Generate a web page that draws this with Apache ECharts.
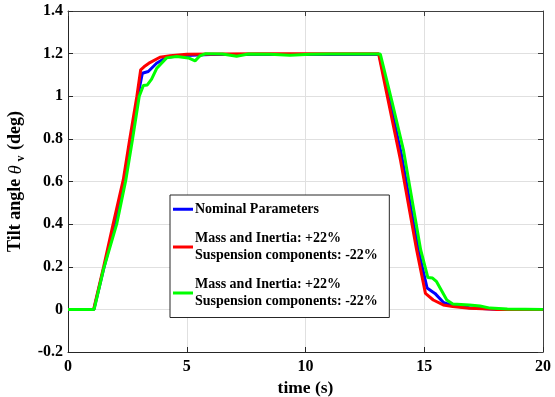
<!DOCTYPE html>
<html>
<head>
<meta charset="utf-8">
<script src="https://cdn.jsdelivr.net/npm/echarts@6/dist/echarts.min.js"></script>
<style>html,body{margin:0;padding:0;background:#fff}#c{width:555px;height:397px}</style>
</head>
<body>
<div id="c"></div>
<script>
// ---- data ----
var xTicks = [0, 5, 10, 15, 20];
var yTicks = [-0.2, 0, 0.2, 0.4, 0.6, 0.8, 1, 1.2, 1.4];

var nameNominal = 'Nominal Parameters';
var nameHeavy = 'Mass and Inertia: +22%\nSuspension components: -22%';
var nameLight = 'Mass and Inertia: +22%\nSuspension components: -22% ';

var tBlue = [0, 1.09, 1.5, 1.98, 2.38, 2.64, 2.94, 3.13, 3.38, 3.73, 4.15, 4.7, 6, 13.1, 13.56, 14.05, 14.75, 15.12, 15.45, 15.8, 16.2, 16.9, 18, 20];
var yBlue = [0, 0, 0.19, 0.4, 0.6, 0.8, 1.0, 1.108, 1.116, 1.155, 1.183, 1.19, 1.196, 1.196, 0.97, 0.72, 0.279, 0.1, 0.075, 0.033, 0.017, 0.008, 0.001, 0];

var tRed = [0, 1.08, 1.5, 1.9, 2.33, 2.6, 2.9, 3.06, 3.2, 3.45, 3.87, 4.3, 5, 8, 13.08, 13.5, 14.0, 14.68, 15.05, 15.38, 15.8, 16.2, 16.9, 18, 20];
var yRed = [0, 0, 0.2, 0.4, 0.61, 0.8, 1.0, 1.124, 1.138, 1.158, 1.183, 1.19, 1.197, 1.199, 1.199, 0.97, 0.70, 0.279, 0.075, 0.044, 0.021, 0.013, 0.005, 0, 0];

var tGreen = [0, 1.1, 1.5, 2.05, 2.44, 2.72, 3.0, 3.17, 3.34, 3.52, 3.73, 4.15, 4.58, 5.07, 5.35, 5.56, 5.8, 6.5, 7.1, 7.6, 8.5, 9.35, 10.2, 11, 13.15, 13.63, 14.12, 14.85, 15.15, 15.35, 15.52, 15.95, 16.2, 16.9, 17.35, 17.77, 18.5, 20];
var yGreen = [0, 0, 0.19, 0.4, 0.61, 0.8, 1.0, 1.05, 1.053, 1.08, 1.13, 1.18, 1.187, 1.18, 1.166, 1.19, 1.2, 1.198, 1.188, 1.198, 1.197, 1.192, 1.197, 1.198, 1.198, 0.98, 0.75, 0.279, 0.15, 0.147, 0.13, 0.044, 0.025, 0.021, 0.016, 0.006, 0.002, 0];

function zip(t, y) { return t.map(function (v, i) { return [v, y[i]]; }); }

var FONT = '"Liberation Serif", "Times New Roman", serif';
var chart = echarts.init(document.getElementById('c'));

function lineSeries(name, t, y, color) {
  return {
    name: name, type: 'line', data: zip(t, y), showSymbol: false, symbol: 'none',
    lineStyle: { color: color, width: 3 }, itemStyle: { color: color },
    animation: false, z: 3
  };
}

chart.setOption({
  animation: false,
  backgroundColor: '#ffffff',
  grid: { left: 68, right: 12, top: 11, bottom: 45, containLabel: false, outerBoundsMode: 'none' },
  legend: {
    orient: 'vertical',
    left: 170, top: 195,
    padding: [6, 8, 8, 3],
    backgroundColor: '#ffffff',
    borderColor: '#262626', borderWidth: 1,
    itemGap: 13,
    itemWidth: 20, itemHeight: 3,
    icon: 'rect',
    data: [nameNominal, nameHeavy, nameLight],
    textStyle: { fontFamily: FONT, fontWeight: 'bold', fontSize: 14, color: '#000', lineHeight: 16.5, padding: [0, 0, 0, -3] }
  },
  xAxis: [{
    type: 'value', min: 0, max: 20, interval: 5,
    name: 'time (s)', nameLocation: 'middle', nameGap: 24,
    nameTextStyle: { fontFamily: FONT, fontWeight: 'bold', fontSize: 17.5, color: '#000' },
    axisLine: { show: true, onZero: false, lineStyle: { color: '#262626', width: 1 } },
    axisTick: { show: true, inside: true, length: 5, lineStyle: { color: '#262626' } },
    axisLabel: { fontFamily: FONT, fontWeight: 'bold', fontSize: 16, color: '#000', margin: 7 },
    splitLine: { show: true, lineStyle: { color: '#e0e0e0', width: 1 } }
  }, {
    type: 'value', min: 0, max: 20, interval: 5, position: 'top',
    axisLine: { show: true, onZero: false, lineStyle: { color: '#404040', width: 1 } },
    axisTick: { show: true, inside: true, length: 5, lineStyle: { color: '#404040' } },
    axisLabel: { show: false }, splitLine: { show: false }
  }],
  yAxis: [{
    type: 'value', min: -0.2, max: 1.4, interval: 0.2,
    name: '{a|Tilt angle }{i|θ}{s|v}{a| (deg)}',
    nameLocation: 'middle', nameGap: 40, nameRotate: 90,
    nameTextStyle: {
      color: '#000',
      rich: {
        a: { fontFamily: FONT, fontWeight: 'bold', fontSize: 18, color: '#000' },
        i: { fontFamily: FONT, fontStyle: 'italic', fontSize: 18, color: '#000' },
        s: { fontFamily: FONT, fontWeight: 'bold', fontSize: 12, color: '#000', padding: [10, 1, 0, 4] }
      }
    },
    axisLine: { show: true, onZero: false, lineStyle: { color: '#262626', width: 1 } },
    axisTick: { show: true, inside: true, length: 5, lineStyle: { color: '#262626' } },
    axisLabel: { fontFamily: FONT, fontWeight: 'bold', fontSize: 16, color: '#000', margin: 5 },
    splitLine: { show: true, lineStyle: { color: '#e0e0e0', width: 1 } }
  }, {
    type: 'value', min: -0.2, max: 1.4, interval: 0.2, position: 'right',
    axisLine: { show: true, onZero: false, lineStyle: { color: '#404040', width: 1 } },
    axisTick: { show: true, inside: true, length: 5, lineStyle: { color: '#404040' } },
    axisLabel: { show: false }, splitLine: { show: false }
  }],
  series: [
    lineSeries(nameNominal, tBlue, yBlue, '#0000ff'),
    lineSeries(nameHeavy, tRed, yRed, '#ff0000'),
    lineSeries(nameLight, tGreen, yGreen, '#00ff00')
  ]
});
</script>
</body>
</html>
